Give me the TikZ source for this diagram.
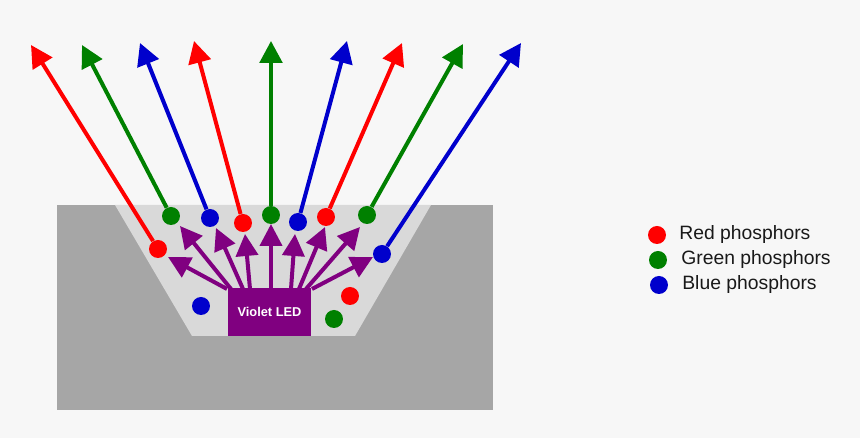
\documentclass[tikz,border=0pt]{standalone}
\usepackage{fontspec}
\setmainfont{Liberation Sans}
\usetikzlibrary{arrows.meta,positioning}
\definecolor{cfondo}{HTML}{F7F7F7}
\definecolor{cgris}{HTML}{A6A6A6}
\definecolor{cclaro}{HTML}{D9D9D9}
\definecolor{crojo}{HTML}{FF0000}
\definecolor{cverde}{HTML}{008000}
\definecolor{cazul}{HTML}{0000CC}
\definecolor{cvioleta}{HTML}{800080}
\tikzset{
  punto/.style={circle,fill=#1,inner sep=0pt,minimum size=0.36cm},
  rayo/.style={-{Triangle[length=4.4mm,width=4.5mm]},draw=#1,line width=0.08cm},
  flechav/.style={-{Triangle[length=4.4mm,width=4.4mm]},draw=cvioleta,line width=0.08cm},
  led/.style={fill=cvioleta,text=white,inner sep=0pt,minimum width=1.66cm,
              minimum height=0.96cm,font=\fontsize{7.3}{8}\selectfont\bfseries},
  leyenda/.style={anchor=west,inner sep=0pt,font=\fontsize{11}{13}\selectfont,text=black!90},
}
\begin{document}
\begin{tikzpicture}[x=0.02cm,y=-0.02cm]
\fill[cfondo] (0,0) rectangle (860,438);
\useasboundingbox (0,0) rectangle (860,438);

% copa de la lampara
\fill[cgris] (57,205) rectangle (493,410);
\fill[cclaro] (115,205) -- (431,205) -- (355,336) -- (192,336) -- cycle;

% luz violeta
\coordinate (s1) at (227,289); \coordinate (p1) at (168,257);
\coordinate (s2) at (231,289); \coordinate (p2) at (180,226);
\coordinate (s3) at (243,289); \coordinate (p3) at (216,228);
\coordinate (s4) at (250,289); \coordinate (p4) at (245,234);
\coordinate (s5) at (271,289); \coordinate (p5) at (271,224);
\coordinate (s6) at (291,289); \coordinate (p6) at (295,234);
\coordinate (s7) at (299,289); \coordinate (p7) at (325,227);
\coordinate (s8) at (306,289); \coordinate (p8) at (360,227);
\coordinate (s9) at (312,289); \coordinate (p9) at (373,257);
\foreach \i in {1,...,9}
  \draw[flechav] (s\i) -- (p\i);

\node[led] (led) at (269.5,312) {Violet LED};

% fosforos
\node[punto=crojo]  (r1) at (158,249) {};
\node[punto=cverde] (g1) at (171,216) {};
\node[punto=cazul]  (b1) at (210,218) {};
\node[punto=crojo]  (r2) at (243,223) {};
\node[punto=cverde] (g2) at (271,215) {};
\node[punto=cazul]  (b2) at (298,222) {};
\node[punto=crojo]  (r3) at (326,217) {};
\node[punto=cverde] (g3) at (367,215) {};
\node[punto=cazul]  (b3) at (382,254) {};
\node[punto=cazul]  (b4) at (201,306) {};
\node[punto=crojo]  (r4) at (350,296) {};
\node[punto=cverde] (g4) at (334,319) {};

\coordinate (t1) at (31,45);
\coordinate (t2) at (82,45);
\coordinate (t3) at (140,43);
\coordinate (t4) at (194,41);
\coordinate (t5) at (271,41);
\coordinate (t6) at (347,41);
\coordinate (t7) at (402,43);
\coordinate (t8) at (463,44);
\coordinate (t9) at (521,43);
\draw[rayo=crojo]  (r1) -- (t1);
\draw[rayo=cverde] (g1) -- (t2);
\draw[rayo=cazul]  (b1) -- (t3);
\draw[rayo=crojo]  (r2) -- (t4);
\draw[rayo=cverde] (g2) -- (t5);
\draw[rayo=cazul]  (b2) -- (t6);
\draw[rayo=crojo]  (r3) -- (t7);
\draw[rayo=cverde] (g3) -- (t8);
\draw[rayo=cazul]  (b3) -- (t9);

% leyenda
\node[punto=crojo]  (lr) at (657,235) {};
\node[punto=cverde] (lg) at (658,260) {};
\node[punto=cazul]  (lb) at (659,285) {};
\node[leyenda] (tr) at (679,235) {Red phosphors};
\node[leyenda] (tg) at (681,260) {Green phosphors};
\node[leyenda] (tb) at (682,285) {Blue phosphors};
\end{tikzpicture}
\end{document}
